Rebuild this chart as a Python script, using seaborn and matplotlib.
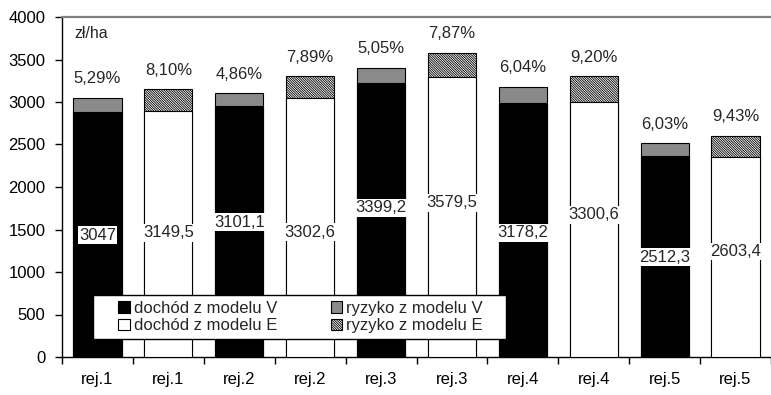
import matplotlib
matplotlib.use("Agg")
import matplotlib.pyplot as plt
import numpy as np
import pandas as pd
import seaborn as sns
from matplotlib.patches import Patch, Rectangle
from matplotlib.ticker import MultipleLocator

# ---- data ----
regions = ["rej.1", "rej.1", "rej.2", "rej.2", "rej.3", "rej.3", "rej.4", "rej.4", "rej.5", "rej.5"]
models = ["V", "E", "V", "E", "V", "E", "V", "E", "V", "E"]
total = [3047.0, 3149.5, 3101.1, 3302.6, 3399.2, 3579.5, 3178.2, 3300.6, 2512.3, 2603.4]
income = [2885.8, 2894.4, 2950.4, 3042.0, 3227.5, 3297.8, 2986.2, 2996.9, 2360.8, 2357.9]
total_labels = ["3047", "3149,5", "3101,1", "3302,6", "3399,2", "3579,5", "3178,2", "3300,6", "2512,3", "2603,4"]
risk_labels = ["5,29%", "8,10%", "4,86%", "7,89%", "5,05%", "7,87%", "6,04%", "9,20%", "6,03%", "9,43%"]
legend_labels = ["dochód z modelu V", "dochód z modelu E", "ryzyko z modelu V", "ryzyko z modelu E"]
unit_label = "zł/ha"

# layout (label heights inside bars, in data units)
label_y = [1435, 1459, 1588, 1470, 1753, 1812, 1459, 1671, 1176, 1240]

df = pd.DataFrame({"pos": list(range(len(total))), "region": regions, "model": models,
                   "total": total, "income": income})

sns.set_theme(style="white")
plt.rcParams["font.family"] = ["Liberation Sans", "DejaVu Sans"]
plt.rcParams["hatch.linewidth"] = 0.6

FS = 12
HATCH = "\\" * 14

fig = plt.figure(figsize=(7.71, 3.95), dpi=100)
ax = fig.add_axes([62 / 771, 38 / 395, 709 / 771, 340 / 395])

BW = 0.68
risk_col = {"V": "#8a8a8a", "E": "white"}
inc_col = {"V": "black", "E": "white"}

# total bars (risk part visible above income)
sns.barplot(data=df, x="pos", y="total", color="white", width=BW, ax=ax,
            edgecolor="black", linewidth=0.8, errorbar=None)
n0 = len(ax.patches)
for p, m in zip(ax.patches[:n0], models):
    p.set_facecolor(risk_col[m])
    if m == "E":
        p.set_hatch(HATCH)
    p.set_zorder(2)

# income bars
sns.barplot(data=df, x="pos", y="income", color="white", width=BW, ax=ax,
            edgecolor="black", linewidth=0.8, errorbar=None)
for p, m in zip(ax.patches[n0:], models):
    p.set_facecolor(inc_col[m])
    p.set_zorder(3)

# labels
for i in range(len(total)):
    ax.text(i, label_y[i], total_labels[i], ha="center", va="center", fontsize=FS, zorder=5,
            bbox=dict(facecolor="white", edgecolor="none", pad=1.0))
    ax.text(i, total[i] + 225, risk_labels[i], ha="center", va="center", fontsize=FS, zorder=5)

ax.text(-0.33, 3810, unit_label, ha="left", va="center", fontsize=FS - 0.5)

ax.set_xlim(-0.5, 9.5)
ax.set_ylim(0, 4000)
ax.yaxis.set_major_locator(MultipleLocator(500))
ax.set_xticks(range(len(regions)))
ax.set_xticklabels(regions)
ax.set_xticks(np.arange(-0.5, 10, 1.0), minor=True)
ax.tick_params(axis="x", which="major", length=0, pad=11, labelsize=FS)
ax.tick_params(axis="x", which="minor", length=5, width=1, color="black", direction="out", bottom=True)
ax.tick_params(axis="y", length=5, width=1, color="black", direction="out", left=True, labelsize=FS, pad=7)
ax.set_xlabel("")
ax.set_ylabel("")
for lab in ax.get_xticklabels() + ax.get_yticklabels():
    lab.set_color("black")

for s in ["left", "bottom"]:
    ax.spines[s].set_color("black")
    ax.spines[s].set_linewidth(1.0)
ax.spines["right"].set_visible(False)
ax.spines["top"].set_visible(True)
ax.spines["top"].set_color("#808080")
ax.spines["top"].set_linewidth(1.6)

# legend frame
ax.add_patch(Rectangle((31 / 709, 18 / 340), 413 / 709, 44 / 340, transform=ax.transAxes,
                       facecolor="white", edgecolor="black", linewidth=1.0, zorder=9))

handles = [
    Patch(facecolor="black", edgecolor="black", linewidth=0.8),
    Patch(facecolor="white", edgecolor="black", linewidth=0.8),
    Patch(facecolor="#8a8a8a", edgecolor="black", linewidth=0.8),
    Patch(facecolor="white", edgecolor="black", linewidth=0.8, hatch=HATCH),
]
leg = ax.legend(handles, legend_labels, ncol=2, loc="center left",
                bbox_to_anchor=(56 / 709, 40 / 340),
                fontsize=FS, frameon=False,
                handlelength=0.7, handleheight=0.7,
                handletextpad=0.25, labelspacing=0.15, borderpad=0, columnspacing=3.2,
                borderaxespad=0)
leg.set_zorder(10)

fig.savefig("out.png", dpi=100)
